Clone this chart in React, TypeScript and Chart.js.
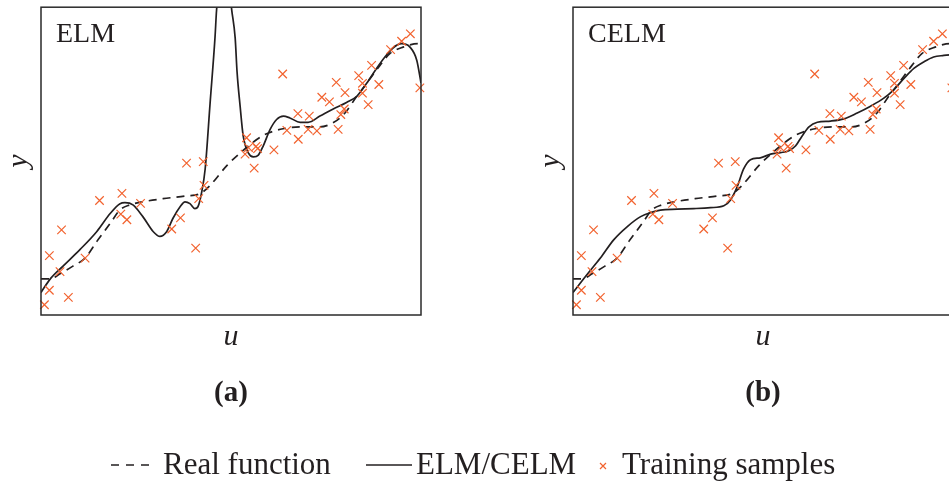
import { useEffect, useRef } from 'react';
import { Chart, registerables } from 'chart.js';

Chart.register(...registerables);

const FONT = '"Liberation Serif", "Times New Roman", serif';
const INK = '#231f20';
const CROSS = '#f2622e';

// Training samples (shared by both panels)
const sampleU = [0.009, 0.022, 0.022, 0.054, 0.072, 0.050, 0.116, 0.154, 0.213, 0.210, 0.226, 0.262, 0.344, 0.367, 0.407, 0.415, 0.429, 0.383, 0.427, 0.541, 0.546, 0.537, 0.566, 0.570, 0.561, 0.613, 0.636, 0.647, 0.676, 0.677, 0.703, 0.706, 0.726, 0.739, 0.759, 0.777, 0.782, 0.789, 0.798, 0.800, 0.836, 0.846, 0.846, 0.861, 0.870, 0.889, 0.920, 0.949, 0.972, 0.997];
const sampleY = [0.038, 0.085, 0.197, 0.280, 0.062, 0.145, 0.189, 0.375, 0.398, 0.331, 0.313, 0.366, 0.283, 0.319, 0.221, 0.381, 0.424, 0.496, 0.501, 0.578, 0.546, 0.525, 0.550, 0.543, 0.480, 0.539, 0.784, 0.602, 0.656, 0.573, 0.605, 0.648, 0.600, 0.709, 0.694, 0.757, 0.605, 0.653, 0.671, 0.724, 0.779, 0.754, 0.722, 0.685, 0.812, 0.750, 0.863, 0.890, 0.914, 0.739];

// Real function
const realU = [0, 0.024, 0.050, 0.084, 0.116, 0.147, 0.182, 0.208, 0.234, 0.268, 0.321, 0.383, 0.418, 0.445, 0.489, 0.532, 0.584, 0.637, 0.689, 0.734, 0.768, 0.800, 0.831, 0.857, 0.892, 0.918, 0.953, 0.992, 1.0];
const realY = [0.122, 0.122, 0.138, 0.163, 0.189, 0.243, 0.301, 0.345, 0.361, 0.371, 0.381, 0.390, 0.397, 0.424, 0.488, 0.537, 0.585, 0.607, 0.613, 0.613, 0.626, 0.658, 0.712, 0.754, 0.812, 0.850, 0.871, 0.882, 0.882];

// ELM fit (panel a)
const elmU = [0, 0.024, 0.058, 0.103, 0.147, 0.182, 0.208, 0.221, 0.242, 0.268, 0.295, 0.313, 0.331, 0.347, 0.366, 0.379, 0.392, 0.405, 0.413, 0.423, 0.432, 0.445, 0.458, 0.462, 0.482, 0.502, 0.511, 0.516, 0.524, 0.532, 0.546, 0.559, 0.572, 0.585, 0.603, 0.620, 0.638, 0.655, 0.682, 0.703, 0.734, 0.769, 0.804, 0.831, 0.857, 0.883, 0.905, 0.927, 0.949, 0.971, 0.989, 1.0];
const elmY = [0.078, 0.121, 0.163, 0.217, 0.275, 0.333, 0.365, 0.368, 0.361, 0.323, 0.275, 0.259, 0.275, 0.317, 0.355, 0.371, 0.365, 0.349, 0.355, 0.403, 0.477, 0.690, 0.904, 0.99, 1.2, 0.99, 0.90, 0.79, 0.68, 0.585, 0.528, 0.516, 0.522, 0.552, 0.605, 0.637, 0.648, 0.642, 0.628, 0.628, 0.648, 0.671, 0.692, 0.712, 0.754, 0.802, 0.839, 0.869, 0.882, 0.871, 0.828, 0.755];

// CELM fit (panel b)
const celmU = [0, 0.037, 0.072, 0.107, 0.143, 0.178, 0.204, 0.230, 0.274, 0.318, 0.362, 0.397, 0.414, 0.432, 0.449, 0.467, 0.493, 0.520, 0.546, 0.568, 0.586, 0.603, 0.621, 0.643, 0.678, 0.713, 0.748, 0.783, 0.818, 0.844, 0.871, 0.897, 0.923, 0.949, 0.976, 1.0];
const celmY = [0.078, 0.136, 0.189, 0.248, 0.291, 0.323, 0.336, 0.344, 0.347, 0.349, 0.352, 0.358, 0.376, 0.419, 0.477, 0.507, 0.513, 0.525, 0.530, 0.536, 0.552, 0.584, 0.613, 0.628, 0.632, 0.639, 0.658, 0.680, 0.706, 0.733, 0.770, 0.802, 0.823, 0.839, 0.844, 0.847];

const panelNames = ['ELM', 'CELM'];
const panelTags = ['(a)', '(b)'];
const legendLabels = ['Real function', 'ELM/CELM', 'Training samples'];

const zip = (u: number[], y: number[]) => u.map((x, i) => ({ x, y: y[i] }));

function drawCross(ctx: CanvasRenderingContext2D, x: number, y: number, r: number) {
  ctx.beginPath();
  ctx.moveTo(x - r, y - r);
  ctx.lineTo(x + r, y + r);
  ctx.moveTo(x + r, y - r);
  ctx.lineTo(x - r, y + r);
  ctx.stroke();
}

function decorPlugin(name: string, tag: string, withLegend: boolean) {
  return {
    id: 'decor',
    afterDraw(chart: any) {
      const { ctx, chartArea: a } = chart;
      ctx.save();
      ctx.strokeStyle = '#2a2a2a';
      ctx.lineWidth = 1.5;
      ctx.setLineDash([]);
      ctx.strokeRect(a.left, a.top, a.right - a.left, a.bottom - a.top);

      ctx.fillStyle = INK;
      ctx.textBaseline = 'alphabetic';
      ctx.textAlign = 'left';
      ctx.font = `28px ${FONT}`;
      ctx.fillText(name, a.left + 15, a.top + 35);

      const cx = (a.left + a.right) / 2;
      ctx.textAlign = 'center';
      ctx.font = `italic 30px ${FONT}`;
      ctx.fillText('u', cx, a.bottom + 30);
      ctx.font = `bold 29px ${FONT}`;
      ctx.fillText(tag, cx, a.bottom + 86);

      ctx.save();
      ctx.translate(a.left - 14, (a.top + a.bottom) / 2);
      ctx.rotate(-Math.PI / 2);
      ctx.font = `italic 30px ${FONT}`;
      ctx.fillText('y', 0, 0);
      ctx.restore();

      if (withLegend) {
        const ly = 465;
        const tb = 474;
        ctx.font = `31px ${FONT}`;
        ctx.textAlign = 'left';
        ctx.strokeStyle = INK;
        ctx.lineWidth = 1.6;
        ctx.setLineDash([8, 7]);
        ctx.beginPath();
        ctx.moveTo(111, ly);
        ctx.lineTo(150, ly);
        ctx.stroke();
        ctx.setLineDash([]);
        ctx.fillText(legendLabels[0], 163, tb);
        ctx.beginPath();
        ctx.moveTo(366, ly);
        ctx.lineTo(412, ly);
        ctx.stroke();
        ctx.fillText(legendLabels[1], 416, tb);
        ctx.strokeStyle = CROSS;
        ctx.lineWidth = 1.2;
        drawCross(ctx, 603, ly + 1, 3);
        ctx.fillText(legendLabels[2], 622, tb);
      }
      ctx.restore();
    },
  };
}

function makeChart(canvas: HTMLCanvasElement, idx: number, fitU: number[], fitY: number[], padRight: number, padBottom: number) {
  return new Chart(canvas, {
    type: 'scatter',
    data: {
      datasets: [
        {
          label: legendLabels[2],
          data: zip(sampleU, sampleY),
          pointStyle: 'crossRot',
          pointRadius: 6,
          pointBorderWidth: 1.2,
          borderColor: CROSS,
          backgroundColor: CROSS,
          showLine: false,
          clip: false,
        } as any,
        {
          label: legendLabels[1],
          data: zip(fitU, fitY),
          showLine: true,
          pointRadius: 0,
          borderColor: INK,
          borderWidth: 1.7,
          cubicInterpolationMode: 'monotone',
        } as any,
        {
          label: legendLabels[0],
          data: zip(realU, realY),
          showLine: true,
          pointRadius: 0,
          borderColor: INK,
          borderWidth: 1.7,
          borderDash: [8, 6],
          cubicInterpolationMode: 'monotone',
        } as any,
      ],
    },
    options: {
      animation: false,
      responsive: false,
      devicePixelRatio: 1,
      events: [],
      layout: { padding: { left: 41, top: 3, right: padRight, bottom: padBottom } },
      plugins: { legend: { display: false }, tooltip: { enabled: false } },
      scales: {
        x: { type: 'linear', min: 0, max: 1, display: false },
        y: { type: 'linear', min: 0.005, max: 1, display: false },
      },
    },
    plugins: [decorPlugin(panelNames[idx], panelTags[idx], idx === 0)],
  });
}

export default function App() {
  const refA = useRef<HTMLCanvasElement>(null);
  const refB = useRef<HTMLCanvasElement>(null);

  useEffect(() => {
    if (!refA.current || !refB.current) return;
    const a = makeChart(refA.current, 0, elmU, elmY, 949 - 421, 485 - 315);
    const b = makeChart(refB.current, 1, celmU, celmY, 475 - 421, 430 - 315);
    return () => {
      a.destroy();
      b.destroy();
    };
  }, []);

  return (
    <div style={{ position: 'absolute', left: 0, top: 0, width: 949, height: 485, overflow: 'hidden', background: '#fff' }}>
      <canvas ref={refA} width={949} height={485} style={{ position: 'absolute', left: 0, top: 0, width: 949, height: 485 }} />
      <canvas ref={refB} width={475} height={430} style={{ position: 'absolute', left: 532, top: 0, width: 475, height: 430 }} />
    </div>
  );
}
